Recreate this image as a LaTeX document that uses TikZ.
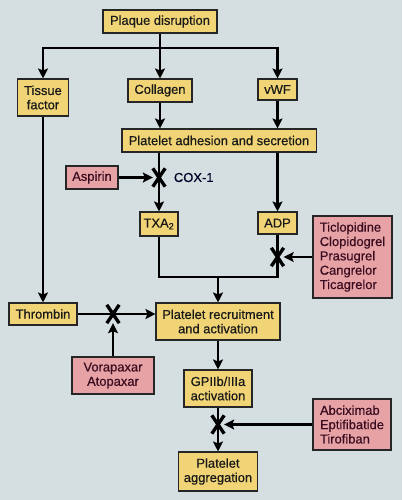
\documentclass[tikz,border=0pt]{standalone}
\usepackage{fontspec}
\setmainfont{Liberation Sans}
\newfontfamily\diagfont{Liberation Sans}[FakeBold=0.5]
\usetikzlibrary{positioning, arrows.meta, shapes.misc}
\definecolor{bgblue}{HTML}{D5DFE1}
\definecolor{boxyellow}{HTML}{F1D475}
\definecolor{drugpink}{HTML}{E7A2A5}
\definecolor{drugtext}{HTML}{3A0C20}

\begin{document}
\begin{tikzpicture}[
		x=0.025cm, y=-0.025cm,
		stage/.style={
			rectangle,
			draw=black!85,
			line width=0.75pt,
			fill=boxyellow,
			inner sep=1pt,
			align=center,
			text=black!90,
			font=\diagfont\fontsize{9.2}{10.2}\selectfont
		},
		drug/.style={
			stage,
			fill=drugpink,
			text=drugtext
		},
		block/.style={
			cross out,
			draw=black,
			line width=2.4pt,
			minimum width=0.225cm,
			minimum height=0.375cm,
			inner sep=0pt
		},
		link/.style={
			line width=1.5pt,
			black
		},
		flow/.style={
			link,
			-{Stealth[length=2.5mm, width=2.5mm, inset=0.5mm]}
		}
		]
		% Background
		\fill[bgblue] (0,0) rectangle (402,500);
		% Nodes
		\node[stage, minimum width=2.85cm, minimum height=0.575cm]
		(plaque) at (160,21.5)
		{Plaque disruption};
		\node[stage, minimum width=1.275cm, minimum height=0.925cm]
		(tissue) at (43,97.5)
		{Tissue\\factor};
		\node[stage, minimum width=1.6cm, minimum height=0.575cm]
		(collagen) at (160,90.5)
		{Collagen};
		\node[stage, minimum width=0.975cm, minimum height=0.525cm]
		(vwf) at (277.5,89.5)
		{vWF};
		\node[stage, minimum width=4.85cm, minimum height=0.575cm]
		(adhesion) at (219,140.5)
		{Platelet adhesion and secretion};
		\node[drug, minimum width=1.3cm, minimum height=0.575cm]
		(aspirin) at (92,177.5)
		{Aspirin};
		\node[block] (xcox) at (159,177.5) {};
		\node[
		anchor=west,
		font=\diagfont\fontsize{9.2}{10.2}\selectfont,
		text=black!85!blue
		]
		(cox) at (169,177.5)
		{COX-1};
		\node[stage, minimum width=0.95cm, minimum height=0.6cm]
		(txa) at (159,224)
		{TXA\textsubscript{2}};
		\node[stage, minimum width=0.975cm, minimum height=0.55cm]
		(adp) at (277.5,223)
		{ADP};
		\node[block] (xadp) at (277.5,257) {};
		\node[drug, align=left, minimum width=1.975cm, minimum height=2.05cm]
		(thieno) at (352.5,257)
		{Ticlopidine\\Clopidogrel\\Prasugrel\\Cangrelor\\Ticagrelor};
		\node[stage, minimum width=1.7cm, minimum height=0.55cm]
		(thrombin) at (43,314)
		{Thrombin};
		\node[block] (xpar) at (113,314) {};
		\node[stage, minimum width=3.1cm, minimum height=0.925cm]
		(recruit) at (218,321.5)
		{Platelet recruitment\\and activation};
		\node[drug, minimum width=2.05cm, minimum height=0.925cm]
		(paxar) at (113,375.5)
		{Vorapaxar\\Atopaxar};
		\node[stage, minimum width=1.7cm, minimum height=0.925cm]
		(gp) at (218,388.5)
		{GPIIb/IIIa\\activation};
		\node[block] (xgp) at (218,424.5) {};
		\node[drug, align=left, minimum width=1.95cm, minimum height=1.275cm]
		(gpblock) at (352,424.5)
		{Abciximab\\Eptifibatide\\Tirofiban};
		\node[stage, minimum width=1.975cm, minimum height=0.975cm]
		(aggreg) at (218,471.5)
		{Platelet\\aggregation};
		% Junctions
		\coordinate (split) at (160,48);
		\coordinate (join) at (218,277);
		% Arrows
		\draw[link] (plaque) -- (split);
		\draw[flow] (split) -| (tissue);
		\draw[flow] (split) -| (vwf);
		\draw[flow] (split) -- (collagen);
		\draw[flow] (collagen) -- (adhesion.north -| collagen);
		\draw[flow] (vwf) -- (adhesion.north -| vwf);
		\draw[flow] (adhesion.south -| txa) -- (txa);
		\draw[flow] (aspirin) -- (xcox);
		\draw[flow] (adhesion.south -| adp) -- (adp);
		\draw[link] (txa) |- (adp |- join) -- (adp);
		\draw[flow] (thieno) -- (xadp);
		\draw[flow] (join) -- (recruit);
		\draw[flow] (tissue) -- (thrombin);
		\draw[flow] (thrombin) -- (thrombin -| recruit.west);
		\draw[flow] (paxar) -- (xpar);
		\draw[flow] (recruit) -- (gp);
		\draw[flow] (gp) -- (aggreg);
		\draw[flow] (gpblock) -- (xgp);
	\end{tikzpicture}
\end{document}
